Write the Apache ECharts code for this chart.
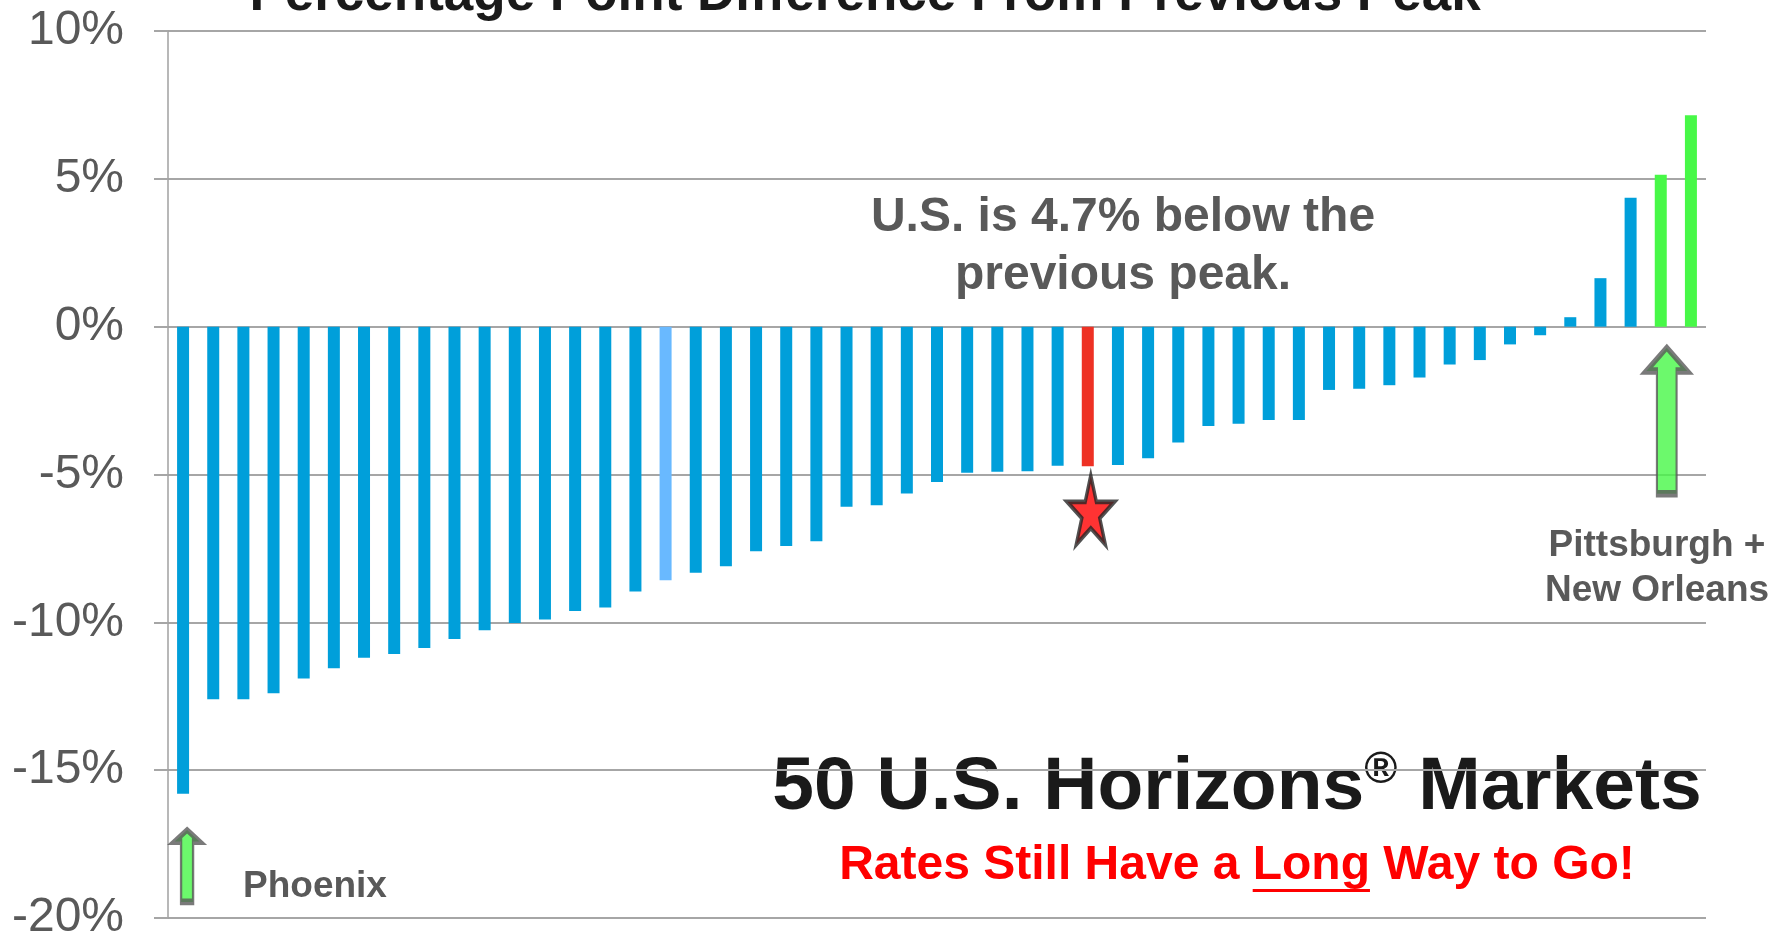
<!DOCTYPE html>
<html lang="en">
<head>
<meta charset="utf-8" />
<title>50 U.S. Horizons Markets</title>
<script src="https://cdn.jsdelivr.net/npm/echarts@6/dist/echarts.min.js"></script>
<style>
  html, body { margin: 0; padding: 0; background: #ffffff; }
  #chart { width: 1781px; height: 942px; }
</style>
</head>
<body>
<div id="chart"></div>
<script>
  // percentage point difference from previous peak, one bar per market, U.S. included
  const changes = [
    -15.8, -12.6, -12.6, -12.4, -11.9, -11.55, -11.2, -11.07, -10.87, -10.56,
    -10.27, -10.02, -9.9, -9.62, -9.5, -8.96, -8.58, -8.32, -8.1, -7.6,
    -7.42, -7.26, -6.09, -6.04, -5.64, -5.25, -4.94, -4.91, -4.89, -4.7,
    -4.72, -4.68, -4.45, -3.92, -3.36, -3.28, -3.16, -3.16, -2.14, -2.1,
    -1.98, -1.72, -1.28, -1.13, -0.6, -0.29, 0.32, 1.64, 4.36, 5.14,
    7.15
  ];
  const yTicks = [-20, -15, -10, -5, 0, 5, 10];

  const usIndex = 30;
  const featuredIndex = 16;
  const risingIndices = [49, 50];

  // where the arrows and the star sit, in chart units (category index, value)
  const arrowAnchors = [
    { name: "Phoenix", index: 0, value: -18.24 },
    { name: "Pittsburgh + New Orleans", index: 49, value: -3.18 }
  ];
  const starAnchor = { name: "U.S.", index: usIndex, value: -6.2 };

  const FONT = '"Liberation Sans", Arial, sans-serif';
  const GREY_TEXT = "#595959";

  const ARROW_PATH = "path://M50,0 L100,16 L74,16 L74,100 L26,100 L26,16 L0,16 Z";
  const STAR_PATH = "path://M50,0 L61.23,34.55 L97.55,34.55 L68.17,55.9 L79.39,90.45 L50,69.1 L20.61,90.45 L31.83,55.9 L2.45,34.55 L38.77,34.55 Z";

  function barColor(i) {
    if (i === usIndex) return "#EE3124";
    if (i === featuredIndex) return "#69B9FF";
    if (risingIndices.includes(i)) return "#47F847";
    return "#009FDA";
  }

  function textNode(text, x, y, size, color, align) {
    return {
      type: "text",
      x,
      y,
      silent: true,
      style: {
        text,
        fill: color,
        font: `bold ${size}px ${FONT}`,
        align: align || "center",
        verticalAlign: "middle"
      }
    };
  }

  function measure(text, font) {
    const ctx = document.createElement("canvas").getContext("2d");
    ctx.font = font;
    return ctx.measureText(text).width;
  }

  // underline under "Long" in the red line
  const redFont = `bold 48px ${FONT}`;
  const redLine = "Rates Still Have a Long Way to Go!";
  const redCenter = 1237;
  const redLeft = redCenter - measure(redLine, redFont) / 2;
  const longLeft = redLeft + measure("Rates Still Have a ", redFont);
  const longWidth = measure("Long", redFont);

  const chart = echarts.init(document.getElementById("chart"), null, { renderer: "canvas" });

  chart.setOption({
    animation: false,
    backgroundColor: "#ffffff",
    grid: { left: 168, right: 75, top: 31, bottom: 24, containLabel: false },
    xAxis: {
      type: "category",
      data: changes.map((_, i) => i),
      boundaryGap: true,
      axisLine: { show: false },
      axisTick: { show: false },
      axisLabel: { show: false },
      splitLine: { show: false }
    },
    yAxis: {
      type: "value",
      min: yTicks[0],
      max: yTicks[yTicks.length - 1],
      interval: yTicks[1] - yTicks[0],
      axisLine: { show: true, lineStyle: { color: "#A0A0A0", width: 1.5 } },
      axisTick: { show: true, length: 14, lineStyle: { color: "#A6A6A6", width: 2 } },
      axisLabel: {
        formatter: (v) => `${v}%`,
        color: GREY_TEXT,
        fontFamily: FONT,
        fontSize: 48,
        margin: 44
      },
      splitLine: { show: true, lineStyle: { color: "#A6A6A6", width: 2 } }
    },
    series: [
      {
        type: "bar",
        barWidth: 12,
        data: changes.map((v, i) => ({ value: v, itemStyle: { color: barColor(i) } })),
        z: 2
      },
      {
        type: "scatter",
        z: 5,
        data: [
          {
            name: arrowAnchors[0].name,
            value: [arrowAnchors[0].index, arrowAnchors[0].value],
            symbol: ARROW_PATH,
            symbolSize: [25, 72],
            symbolOffset: [4, 0],
            itemStyle: { color: "#47F847", borderColor: GREY_TEXT, borderWidth: 4 }
          },
          {
            name: arrowAnchors[1].name,
            value: [arrowAnchors[1].index, arrowAnchors[1].value],
            symbol: ARROW_PATH,
            symbolSize: [41, 146],
            symbolOffset: [6, 0],
            itemStyle: { color: "#47F847", borderColor: GREY_TEXT, borderWidth: 4 }
          },
          {
            name: starAnchor.name,
            value: [starAnchor.index, starAnchor.value],
            symbol: STAR_PATH,
            symbolSize: [47, 69],
            symbolOffset: [3, 0],
            itemStyle: { color: "#FF0000", borderColor: "#262626", borderWidth: 4 }
          }
        ]
      }
    ],
    graphic: [
      textNode("Percentage Point Difference From Previous Peak", 865, -5, 53, "#1A1A1A"),
      textNode("U.S. is 4.7% below the", 1123, 218, 48, GREY_TEXT),
      textNode("previous peak.", 1123, 276, 48, GREY_TEXT),
      textNode("Pittsburgh +", 1657, 546, 37, GREY_TEXT),
      textNode("New Orleans", 1657, 591, 37, GREY_TEXT),
      textNode("Phoenix", 243, 887, 37, GREY_TEXT, "left"),
      {
        type: "text",
        x: 1237,
        y: 788,
        silent: true,
        style: {
          text: "{a|50 U.S. Horizons}{s|®}{a| Markets}",
          align: "center",
          verticalAlign: "middle",
          rich: {
            a: { fontFamily: FONT, fontWeight: "bold", fontSize: 75, lineHeight: 80, fill: "#1A1A1A", color: "#1A1A1A" },
            s: { fontFamily: FONT, fontWeight: "bold", fontSize: 45, lineHeight: 46, verticalAlign: "top", fill: "#1A1A1A", color: "#1A1A1A" }
          }
        }
      },
      textNode(redLine, redCenter, 866, 48, "#FF0000"),
      {
        type: "rect",
        silent: true,
        shape: { x: longLeft, y: 889, width: longWidth, height: 3 },
        style: { fill: "#FF0000" }
      }
    ]
  });
</script>
</body>
</html>
